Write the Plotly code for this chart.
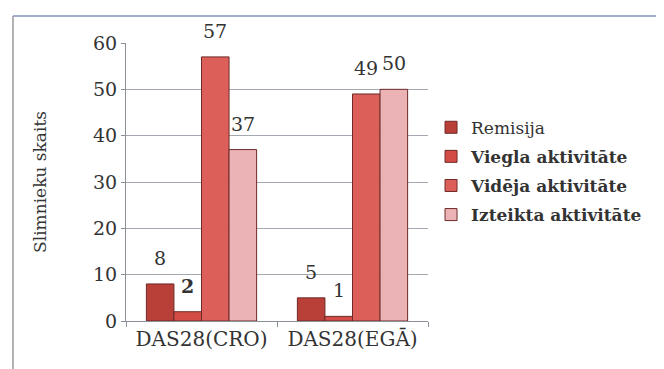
import plotly.graph_objects as go

categories = ["DAS28(CRO)", "DAS28(EGĀ)"]
series_names = ["Remisija", "Viegla aktivitāte", "Vidēja aktivitāte", "Izteikta aktivitāte"]
remisija = [8, 5]
viegla = [2, 1]
videja = [57, 49]
izteikta = [37, 50]
y_ticks = [0, 10, 20, 30, 40, 50, 60]

series_values = [remisija, viegla, videja, izteikta]
colors = ["#b93f39", "#d44c46", "#dc5f59", "#ecb3b6"]
legend_labels = ["Remisija", "<b>Viegla aktivitāte</b>", "<b>Vidēja aktivitāte</b>", "<b>Izteikta aktivitāte</b>"]

SERIF = "DejaVu Serif"
TXT = "#333333"

fig = go.Figure()
for i, (name, vals) in enumerate(zip(series_names, series_values)):
    fig.add_trace(go.Bar(
        x=categories, y=vals, name=legend_labels[i],
        marker=dict(color=colors[i], line=dict(color="#6e2a28", width=1)),
        legendgroup=str(i),
    ))

W, H = 664, 369
ml, mr, mt, mb = 118, 244, 35, 56
plot_w = W - ml - mr
bargap = 0.27
cat_w = plot_w / len(categories)
bar_w = cat_w * (1 - bargap) / len(series_names)

annotations = []
for i, vals in enumerate(series_values):
    for c, v in zip(categories, vals):
        txt = str(v)
        if i == 1 and c == categories[0]:
            txt = "<b>" + txt + "</b>"
        annotations.append(dict(
            x=c, y=v, xref="x", yref="y", text=txt, showarrow=False,
            xshift=(i - 1.5) * bar_w, yshift=13, yanchor="bottom",
            font=dict(family=SERIF, size=19, color=TXT),
        ))

fig.update_layout(
    width=W, height=H,
    margin=dict(l=ml, r=mr, t=mt, b=mb, pad=0),
    paper_bgcolor="white", plot_bgcolor="white",
    barmode="group", bargap=bargap, bargroupgap=0,
    font=dict(family=SERIF, color=TXT),
    xaxis=dict(
        showline=True, linecolor="#8a8f98", linewidth=1,
        ticks="outside", tickson="boundaries", ticklen=5, tickcolor="#8a8f98",
        tickfont=dict(family=SERIF, size=20, color=TXT),
        showgrid=False,
    ),
    yaxis=dict(
        range=[0, 60], tickvals=y_ticks,
        showline=True, linecolor="#8a8f98", linewidth=1,
        ticks="outside", ticklen=4, tickcolor="#8a8f98",
        showgrid=True, gridcolor="#a4a8b0", gridwidth=1,
        tickfont=dict(family=SERIF, size=19, color=TXT),
        title=dict(text="Slimnieku skaits", font=dict(family=SERIF, size=17, color=TXT), standoff=42),
        zeroline=False,
    ),
    legend=dict(
        x=1.01, y=0.76, xanchor="left", yanchor="top",
        font=dict(family=SERIF, size=17, color=TXT),
        tracegroupgap=4, itemwidth=30,
        bgcolor="rgba(0,0,0,0)",
    ),
    annotations=annotations,
    shapes=[
        dict(type="line", xref="paper", yref="paper",
             x0=-(ml - 5) / plot_w, x1=(W - ml) / plot_w,
             y0=(H - mb - 8) / (H - mt - mb), y1=(H - mb - 8) / (H - mt - mb),
             line=dict(color="#7f93b8", width=1.5)),
        dict(type="line", xref="paper", yref="paper",
             x0=-(ml - 5) / plot_w, x1=-(ml - 5) / plot_w,
             y0=-mb / (H - mt - mb), y1=(H - mb - 8) / (H - mt - mb),
             line=dict(color="#9a9a9a", width=1.5)),
    ],
    showlegend=True,
)

fig.write_html("out.html")
